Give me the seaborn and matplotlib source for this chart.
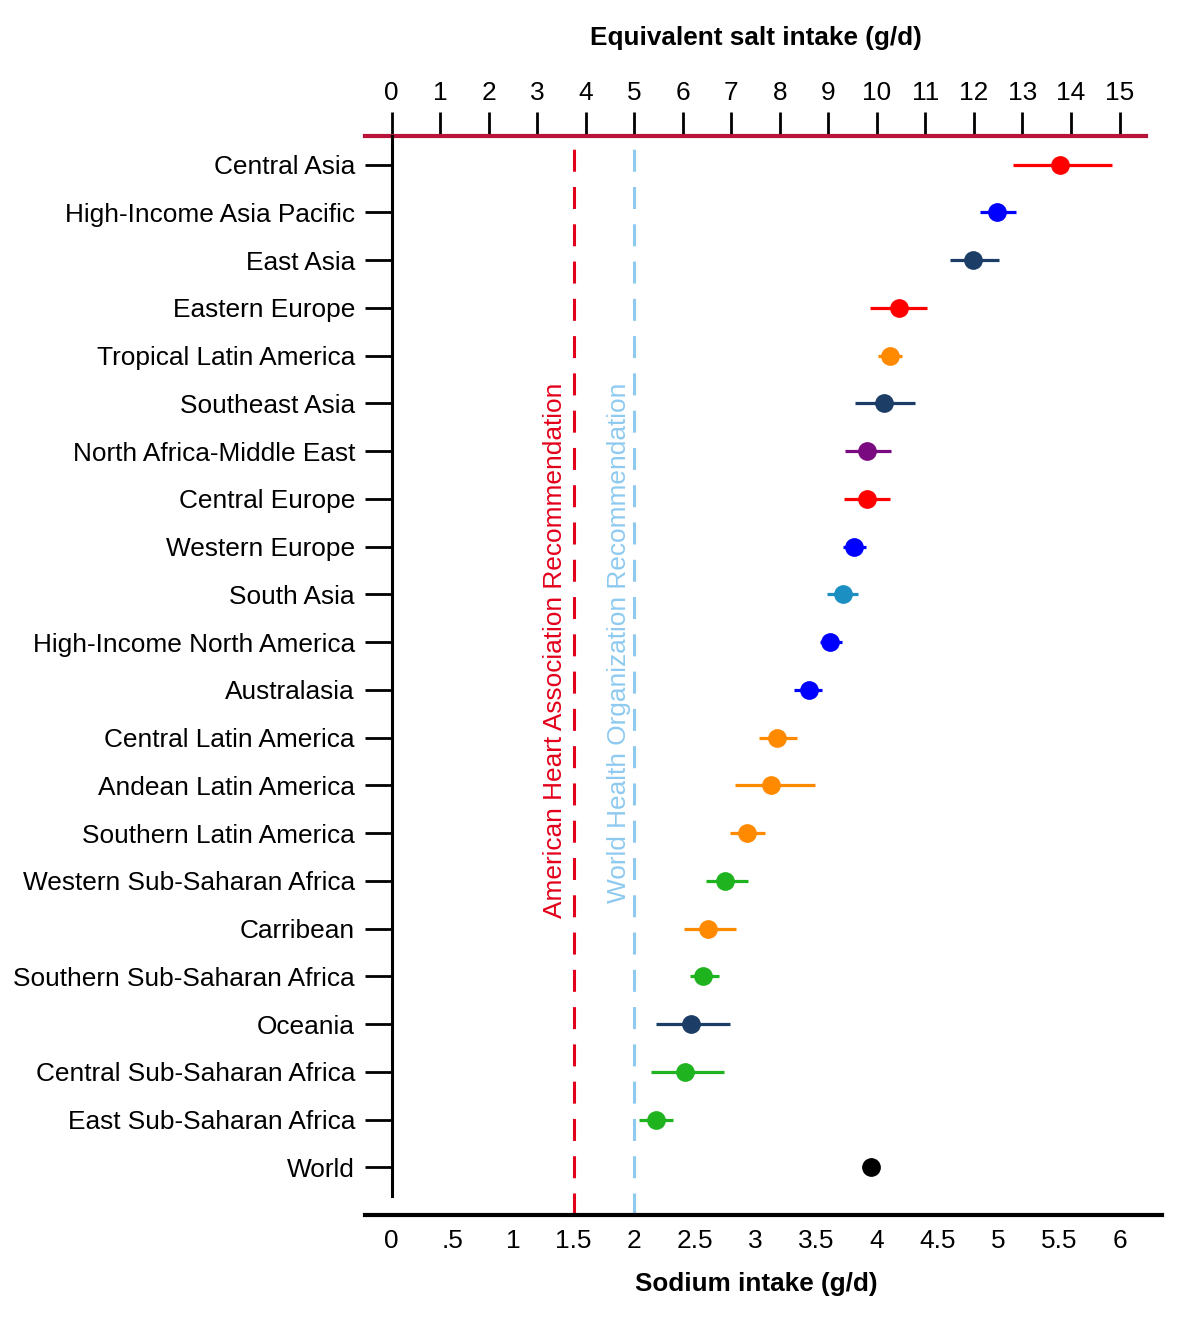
import numpy as np
import pandas as pd
import matplotlib
matplotlib.use("Agg")
import matplotlib.pyplot as plt
import seaborn as sns

sns.set_style("white")
plt.rcParams['font.family'] = ['Liberation Sans', 'DejaVu Sans']
plt.rcParams['text.color'] = 'black'
plt.rcParams['xtick.color'] = 'black'
plt.rcParams['ytick.color'] = 'black'
plt.rcParams['xtick.labelcolor'] = 'black'
plt.rcParams['ytick.labelcolor'] = 'black'

regions = ["Central Asia", "High-Income Asia Pacific", "East Asia", "Eastern Europe",
           "Tropical Latin America", "Southeast Asia", "North Africa-Middle East",
           "Central Europe", "Western Europe", "South Asia", "High-Income North America",
           "Australasia", "Central Latin America", "Andean Latin America",
           "Southern Latin America", "Western Sub-Saharan Africa", "Carribean",
           "Southern Sub-Saharan Africa", "Oceania", "Central Sub-Saharan Africa",
           "East Sub-Saharan Africa", "World"]
sodium = [5.51, 4.99, 4.79, 4.18, 4.11, 4.06, 3.92, 3.92, 3.81, 3.72, 3.61, 3.44,
          3.18, 3.13, 2.93, 2.75, 2.61, 2.57, 2.47, 2.42, 2.18, 3.95]
ci_low = [5.12, 4.85, 4.60, 3.94, 4.01, 3.82, 3.74, 3.73, 3.72, 3.59, 3.53, 3.32,
          3.03, 2.83, 2.79, 2.59, 2.41, 2.46, 2.18, 2.14, 2.04, np.nan]
ci_high = [5.94, 5.15, 5.01, 4.41, 4.21, 4.31, 4.12, 4.11, 3.91, 3.84, 3.71, 3.55,
           3.34, 3.49, 3.08, 2.94, 2.84, 2.70, 2.79, 2.74, 2.32, np.nan]

RED, BLUE, NAVY, ORANGE = "#ff0000", "#0000ff", "#1b3d66", "#ff8a00"
PURPLE, TEAL, GREEN, BLACK = "#7a0a80", "#1b8fc2", "#1fb41f", "#000000"
colors = [RED, BLUE, NAVY, RED, ORANGE, NAVY, PURPLE, RED, BLUE, TEAL, BLUE, BLUE,
          ORANGE, ORANGE, ORANGE, GREEN, ORANGE, GREEN, NAVY, GREEN, GREEN, BLACK]

sodium_ticks = [0, 0.5, 1, 1.5, 2, 2.5, 3, 3.5, 4, 4.5, 5, 5.5, 6]
sodium_labels = ["0", ".5", "1", "1.5", "2", "2.5", "3", "3.5", "4", "4.5", "5", "5.5", "6"]
salt_ticks = list(range(0, 16))
salt_per_sodium = 2.5

aha_value, who_value = 1.5, 2.0
aha_text = "American Heart Association Recommendation"
who_text = "World Health Organization Recommendation"

df = pd.DataFrame({"region": regions, "sodium": sodium, "lo": ci_low, "hi": ci_high})

W, H = 1184, 1326
FS = 18.9
fig = plt.figure(figsize=(W / 100, H / 100), dpi=100)
ax = fig.add_axes([365 / W, 1 - 1215 / H, (1162 - 365) / W, (1215 - 136) / H])

pos = np.arange(len(regions))
ax.hlines(pos, df["lo"], df["hi"], colors=colors, linewidth=2.3, zorder=3)
sns.stripplot(data=df, x="sodium", y="region", hue="region", palette=colors,
              jitter=False, size=13.5, linewidth=0, legend=False, ax=ax, zorder=4)

# recommendation lines
ax.axvline(aha_value, color="#e3001b", linewidth=2.2, dashes=(7.2, 5), zorder=2)
ax.axvline(who_value, color="#8ecaf0", linewidth=2.2, dashes=(7.2, 5), zorder=2)
ax.text(1.35, 4.57, aha_text, rotation=90, ha="center", va="top",
        color="#e3001b", fontsize=FS)
ax.text(1.87, 4.57, who_text, rotation=90, ha="center", va="top",
        color="#8ecaf0", fontsize=FS)

ax.set_xlim(-0.22, 6.35)
ax.set_ylim(22.0, -0.6)
ax.set_xlabel("")
ax.set_ylabel("")

# bottom axis
ax.set_xticks(sodium_ticks)
ax.set_xticklabels(sodium_labels, fontsize=FS)
ax.tick_params(axis="x", direction="in", length=14.5, width=2.2, pad=10, color="black")
ax.spines["bottom"].set_linewidth(3)
ax.spines["bottom"].set_color("black")
ax.spines["right"].set_visible(False)
ax.spines["top"].set_visible(False)

# left axis
ax.spines["left"].set_position(("data", 0))
ax.spines["left"].set_bounds(-0.6, 21.6)
ax.spines["left"].set_linewidth(2.2)
ax.spines["left"].set_color("black")
ax.tick_params(axis="y", direction="out", length=19.5, width=2.0, pad=7,
               labelsize=FS, left=True, color="black")

# top axis (salt)
sec = ax.secondary_xaxis("top", functions=(lambda x: x * salt_per_sodium,
                                            lambda x: x / salt_per_sodium))
sec.set_xticks(salt_ticks)
sec.set_xticklabels([str(t) for t in salt_ticks], fontsize=FS)
sec.tick_params(axis="x", direction="out", length=17, width=2.0, pad=5, color="black")
sec.spines["top"].set_color("#b8143a")
sec.spines["top"].set_linewidth(3)
sec.spines["top"].set_bounds(-0.22 * salt_per_sodium, 6.22 * salt_per_sodium)

fig.text(756 / W, 1 - 38 / H, "Equivalent salt intake (g/d)", ha="center", va="center",
         fontsize=18.8, fontweight="bold")
fig.text(756 / W, 1 - 1284 / H, "Sodium intake (g/d)", ha="center", va="center",
         fontsize=18.8, fontweight="bold")

fig.savefig("out.png", dpi=100, facecolor="white")
